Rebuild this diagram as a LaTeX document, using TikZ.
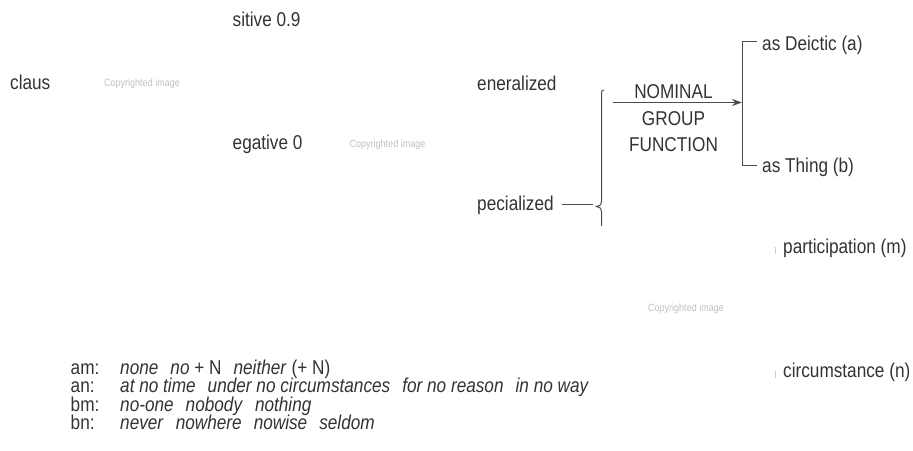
\documentclass[tikz,border=0pt]{standalone}
\usepackage{fontspec}
\setmainfont{Liberation Sans}[FakeStretch=0.86]
\usetikzlibrary{arrows.meta}
\newcommand{\gap}{\hspace{12pt}}

\begin{document}
\begin{tikzpicture}[x=1pt, y=-1pt,
  every node/.style={inner sep=0pt, anchor=base west, text=black!80, font=\fontsize{20}{23}\selectfont},
  wm/.style={anchor=center, text=black!25, font=\fontsize{10.5}{12}\selectfont},
  fnlabel/.style={anchor=base},
  rule/.style={draw=black!70, line width=1pt},
  tick/.style={draw=black!20, line width=1pt}]
\useasboundingbox (0,0) rectangle (913,450);

% left part
\node (pos) at (232.5,26.5) {sitive 0.9};
\node (claus) at (10,89) {claus};
\node[wm] (wm1) at (142,83.5) {Copyrighted image};
\node (neg) at (232.5,149.5) {egative 0};
\node[wm] (wm2) at (387.5,144.5) {Copyrighted image};

% generalized / specialized
\node (gen) at (477,90.5) {eneralized};
\node (spec) at (477,210) {pecialized};
\coordinate (btop) at (604,90);
\coordinate (btip) at (596.5,206.5);
\coordinate (bbot) at (601.5,226);
\draw[rule] (btop) .. controls (601.5,90.5) .. (601.5,95) -- (601.5,201)
  .. controls (601.5,205) and (599,206.5) .. (btip)
  .. controls (599,206.5) and (601.5,208) .. (601.5,212) -- (bbot);
\draw[rule] ([xshift=8pt]spec.east) -- ([xshift=-4pt]spec.east -| btip);

% nominal group function
\node[fnlabel] (nom) at (673.5,98) {NOMINAL};
\node[fnlabel] (grp) at (673.5,125) {GROUP};
\node[fnlabel] (fun) at (673.5,151) {FUNCTION};
\coordinate (astart) at (613,102.5);
\coordinate (kv) at (742,102.5);
\draw[rule, -{Stealth[length=10pt, width=7pt]}] (astart) -- (kv);

\node (deic) at (762,50) {as Deictic (a)};
\node (thing) at (762,172) {as Thing (b)};
\coordinate (ktop) at (742,41);
\coordinate (kbot) at (742,165);
\draw[rule] ([xshift=-5pt]deic.west |- ktop) -- (ktop) -- (kbot) -- ([xshift=-5pt]thing.west |- kbot);

% right column
\node (part) at (783,253) {participation (m)};
\node[wm] (wm3) at (686,309) {Copyrighted image};
\node (circ) at (783,377) {circumstance (n)};
\draw[tick] ([xshift=-8pt,yshift=-1pt]part.base west) -- ++(0,-7);
\draw[tick] ([xshift=-8pt,yshift=-1pt]circ.base west) -- ++(0,-7);

% examples
\node (am) at (70.5,374) {am:};
\node (amx) at (120,374) {\textit{none}\gap\textit{no} + N\gap\textit{neither} (+ N)};
\node (an) at (70.5,392.5) {an:};
\node (anx) at (120,392.5) {\textit{at no time}\gap\textit{under no circumstances}\gap\textit{for no reason}\gap\textit{in no way}};
\node (bm) at (70.5,411) {bm:};
\node (bmx) at (120,411) {\textit{no-one}\gap\textit{nobody}\gap\textit{nothing}};
\node (bn) at (70.5,429.5) {bn:};
\node (bnx) at (120,429.5) {\textit{never}\gap\textit{nowhere}\gap\textit{nowise}\gap\textit{seldom}};
\end{tikzpicture}
\end{document}
